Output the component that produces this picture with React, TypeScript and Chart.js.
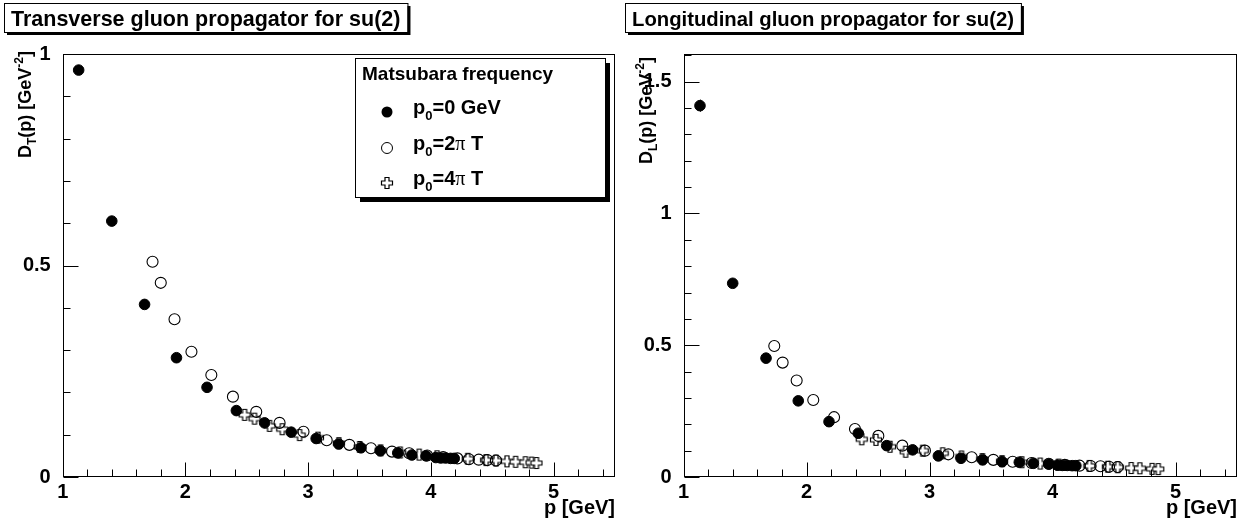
import React, { useEffect, useRef } from 'react';
import { Chart, registerables } from 'chart.js';

Chart.register(...registerables);

// ---------------- data ----------------
const xTickValues = [1, 2, 3, 4, 5];
const leftYTickValues = [0, 0.5, 1];
const rightYTickValues = [0, 0.5, 1, 1.5];

// Transverse propagator
const leftP0X = [1.13, 1.40, 1.667, 1.927, 2.176, 2.415, 2.645, 2.862, 3.065, 3.249, 3.43, 3.588, 3.73, 3.845, 3.96, 4.04, 4.08, 4.12, 4.16, 4.19];
const leftP0Y = [0.962, 0.605, 0.408, 0.282, 0.212, 0.157, 0.128, 0.106, 0.091, 0.078, 0.069, 0.062, 0.057, 0.052, 0.050, 0.046, 0.045, 0.045, 0.044, 0.044];
const left2piX = [1.732, 1.799, 1.911, 2.049, 2.211, 2.387, 2.577, 2.767, 2.962, 3.151, 3.336, 3.512, 3.683, 3.823, 3.97, 4.10, 4.216, 4.31, 4.39, 4.46, 4.53];
const left2piY = [0.509, 0.459, 0.373, 0.296, 0.241, 0.190, 0.154, 0.128, 0.107, 0.087, 0.076, 0.068, 0.060, 0.056, 0.051, 0.047, 0.044, 0.042, 0.041, 0.040, 0.039];
const left4piX = [2.482, 2.563, 2.685, 2.789, 2.93, 3.08, 3.25, 3.42, 3.59, 3.75, 3.905, 4.05, 4.30, 4.45, 4.53, 4.62, 4.69, 4.77, 4.82, 4.86];
const left4piY = [0.147, 0.138, 0.121, 0.113, 0.099, 0.093, 0.080, 0.071, 0.063, 0.058, 0.053, 0.049, 0.043, 0.040, 0.039, 0.037, 0.036, 0.035, 0.034, 0.033];

// Longitudinal propagator
const rightP0X = [1.134, 1.40, 1.671, 1.933, 2.183, 2.421, 2.652, 2.863, 3.072, 3.256, 3.432, 3.59, 3.73, 3.845, 3.97, 4.04, 4.08, 4.12, 4.16, 4.19];
const rightP0Y = [1.409, 0.735, 0.451, 0.289, 0.210, 0.166, 0.119, 0.103, 0.080, 0.071, 0.065, 0.058, 0.056, 0.052, 0.049, 0.045, 0.044, 0.044, 0.043, 0.043];
const rightP0Err = [0.023, 0.01, 0.005, 0.004, 0.003, 0.003, 0.002, 0.002, 0.002, 0.002, 0.002, 0.002, 0.002, 0.002, 0.002, 0.002, 0.002, 0.002, 0.002, 0.002];
const right2piX = [1.738, 1.806, 1.92, 2.055, 2.224, 2.394, 2.584, 2.779, 2.963, 3.153, 3.343, 3.519, 3.676, 3.83, 3.97, 4.10, 4.22, 4.31, 4.39, 4.46, 4.53];
const right2piY = [0.497, 0.434, 0.366, 0.292, 0.227, 0.182, 0.156, 0.119, 0.100, 0.086, 0.075, 0.065, 0.058, 0.053, 0.050, 0.046, 0.043, 0.042, 0.041, 0.039, 0.038];
const right4piX = [2.449, 2.565, 2.679, 2.806, 2.945, 3.107, 3.26, 3.43, 3.59, 3.75, 3.90, 4.05, 4.30, 4.45, 4.53, 4.64, 4.71, 4.81, 4.86];
const right4piY = [0.143, 0.141, 0.115, 0.096, 0.100, 0.090, 0.078, 0.068, 0.060, 0.056, 0.051, 0.047, 0.042, 0.039, 0.037, 0.034, 0.033, 0.031, 0.030];

// ---------------- styling helpers ----------------
const FONT = "'Liberation Sans', Arial, Helvetica, sans-serif";
const SERIF = "'Liberation Serif', 'Times New Roman', serif";

type Part = { t: string; k?: 'sub' | 'sup'; serif?: boolean };

function partFont(p: Part, size: number) {
  const s = p.k ? Math.round(size * 0.65) : size;
  return p.serif ? `normal ${s}px ${SERIF}` : `bold ${s}px ${FONT}`;
}

function richWidth(ctx: CanvasRenderingContext2D, parts: Part[], size: number) {
  let w = 0;
  for (const p of parts) {
    ctx.font = partFont(p, size);
    w += ctx.measureText(p.t).width;
  }
  return w;
}

function drawRich(ctx: CanvasRenderingContext2D, parts: Part[], x: number, baseline: number, size: number, align: 'left' | 'right' | 'center') {
  const w = richWidth(ctx, parts, size);
  let cx = align === 'left' ? x : align === 'right' ? x - w : x - w / 2;
  ctx.textAlign = 'left';
  ctx.textBaseline = 'alphabetic';
  for (const p of parts) {
    ctx.font = partFont(p, size);
    const dy = p.k === 'sub' ? size * 0.3 : p.k === 'sup' ? -size * 0.42 : 0;
    ctx.fillText(p.t, cx, baseline + dy);
    cx += ctx.measureText(p.t).width;
  }
  return w;
}

function makeCross(): HTMLCanvasElement {
  const c = document.createElement('canvas');
  c.width = 14;
  c.height = 14;
  const g = c.getContext('2d')!;
  const cx = 7, cy = 7, a = 2, b = 5.5;
  g.beginPath();
  g.moveTo(cx - a, cy - b);
  g.lineTo(cx + a, cy - b);
  g.lineTo(cx + a, cy - a);
  g.lineTo(cx + b, cy - a);
  g.lineTo(cx + b, cy + a);
  g.lineTo(cx + a, cy + a);
  g.lineTo(cx + a, cy + b);
  g.lineTo(cx - a, cy + b);
  g.lineTo(cx - a, cy + a);
  g.lineTo(cx - b, cy + a);
  g.lineTo(cx - b, cy - a);
  g.lineTo(cx - a, cy - a);
  g.closePath();
  g.fillStyle = '#fff';
  g.fill();
  g.strokeStyle = '#000';
  g.lineWidth = 1.2;
  g.stroke();
  return c;
}

type Panel = {
  title: Part[];
  titleBoxLeft: number;
  titleSize: number;
  yTitle: Part[];
  yTitleBaseX: number;
  yTitleEndY: number;
  yMax: number;
  yTicks: number[];
  yAxisWidth: number;
  padRight: number;
  legend: boolean;
  p0X: number[]; p0Y: number[]; p0Err?: number[];
  p2X: number[]; p2Y: number[];
  p4X: number[]; p4Y: number[];
};

const leftPanel: Panel = {
  title: [{ t: 'Transverse gluon propagator for su(2)' }],
  titleBoxLeft: 4,
  titleSize: 21.5,
  yTitle: [{ t: 'D' }, { t: 'T', k: 'sub' }, { t: '(p) [GeV' }, { t: '-2', k: 'sup' }, { t: ']' }],
  yTitleBaseX: 31,
  yTitleEndY: 51,
  yMax: 1,
  yTicks: leftYTickValues,
  yAxisWidth: 62.7,
  padRight: 6,
  legend: true,
  p0X: leftP0X, p0Y: leftP0Y,
  p2X: left2piX, p2Y: left2piY,
  p4X: left4piX, p4Y: left4piY,
};

const rightPanel: Panel = {
  title: [{ t: 'Longitudinal gluon propagator for su(2)' }],
  titleBoxLeft: 3,
  titleSize: 20.3,
  yTitle: [{ t: 'D' }, { t: 'L', k: 'sub' }, { t: '(p) [GeV' }, { t: '-2', k: 'sup' }, { t: ']' }],
  yTitleBaseX: 30,
  yTitleEndY: 57,
  yMax: 1.605,
  yTicks: rightYTickValues,
  yAxisWidth: 61.5,
  padRight: 8,
  legend: false,
  p0X: rightP0X, p0Y: rightP0Y, p0Err: rightP0Err,
  p2X: right2piX, p2Y: right2piY,
  p4X: right4piX, p4Y: right4piY,
};

const pts = (xs: number[], ys: number[]) => xs.map((x, i) => ({ x, y: ys[i] }));

function panelPlugin(panel: Panel, cross: HTMLCanvasElement) {
  return {
    id: 'rootStyle',
    afterDatasetsDraw(chart: any) {
      if (!panel.p0Err) return;
      const { ctx } = chart;
      const ys = chart.scales.y;
      const meta = chart.getDatasetMeta(0);
      ctx.save();
      ctx.strokeStyle = '#000';
      ctx.lineWidth = 1;
      ctx.beginPath();
      panel.p0Err.forEach((e, i) => {
        const el = meta.data[i];
        if (!el) return;
        const x = Math.round(el.x) + 0.5;
        ctx.moveTo(x, ys.getPixelForValue(panel.p0Y[i] + e));
        ctx.lineTo(x, ys.getPixelForValue(panel.p0Y[i] - e));
      });
      ctx.stroke();
      ctx.restore();
    },
    afterDraw(chart: any) {
      const { ctx, chartArea: a } = chart;
      const xs = chart.scales.x;
      const ys = chart.scales.y;
      ctx.save();
      ctx.strokeStyle = '#000';
      ctx.fillStyle = '#000';
      ctx.lineWidth = 1;
      const L = Math.round(a.left) + 0.5;
      const R = Math.round(a.right) - 0.5;
      const T = Math.round(a.top) + 0.5;
      const B = Math.round(a.bottom) - 0.5;
      ctx.strokeRect(L, T, R - L, B - T);

      // inward ticks
      ctx.beginPath();
      for (let i = 0; ; i++) {
        const v = xs.min + i * 0.2;
        if (v > xs.max + 1e-9) break;
        const px = Math.round(xs.getPixelForValue(v)) + 0.5;
        const major = xTickValues.some((t) => Math.abs(t - v) < 1e-6);
        ctx.moveTo(px, B);
        ctx.lineTo(px, B - (major ? 14 : 7));
      }
      for (let i = 0; ; i++) {
        const v = ys.min + i * 0.1;
        if (v > ys.max + 1e-9) break;
        const py = Math.round(ys.getPixelForValue(v)) + 0.5;
        const major = panel.yTicks.some((t) => Math.abs(t - v) < 1e-6);
        ctx.moveTo(L, py);
        ctx.lineTo(L + (major ? 15 : 7), py);
      }
      ctx.stroke();

      // x axis title
      drawRich(ctx, [{ t: 'p [GeV]' }], a.right, 514, 20, 'right');

      // y axis title (rotated)
      ctx.save();
      ctx.translate(panel.yTitleBaseX, panel.yTitleEndY);
      ctx.rotate(-Math.PI / 2);
      drawRich(ctx, panel.yTitle, 0, 0, 18, 'right');
      ctx.restore();

      // title pave
      const tSize = panel.titleSize;
      const tw = richWidth(ctx, panel.title, tSize);
      const bx = panel.titleBoxLeft, by = 3, bw = tw + 14, bh = 29;
      ctx.fillStyle = '#000';
      ctx.fillRect(bx + 3, by + 3, bw, bh);
      ctx.fillStyle = '#fff';
      ctx.fillRect(bx, by, bw, bh);
      ctx.strokeRect(bx + 0.5, by + 0.5, bw, bh);
      ctx.fillStyle = '#000';
      drawRich(ctx, panel.title, bx + bw / 2, by + 23, tSize, 'center');

      // legend
      if (panel.legend) {
        const lx = 355, ly = 58, lw = 250, lh = 139;
        ctx.fillStyle = '#000';
        ctx.fillRect(lx + 5, ly + 5, lw, lh);
        ctx.fillStyle = '#fff';
        ctx.fillRect(lx, ly, lw, lh);
        ctx.strokeRect(lx + 0.5, ly + 0.5, lw, lh);
        ctx.fillStyle = '#000';
        drawRich(ctx, [{ t: 'Matsubara frequency' }], 362, 80, 19, 'left');
        const mx = 387;
        const rows = [112, 148, 183];
        ctx.beginPath();
        ctx.arc(mx, rows[0], 5.5, 0, Math.PI * 2);
        ctx.fill();
        ctx.beginPath();
        ctx.arc(mx, rows[1], 5.5, 0, Math.PI * 2);
        ctx.stroke();
        ctx.drawImage(cross, mx - 7, rows[2] - 7);
        const size = 20;
        drawRich(ctx, [{ t: 'p' }, { t: '0', k: 'sub' }, { t: '=0 GeV' }], 413, rows[0] + 2, size, 'left');
        drawRich(ctx, [{ t: 'p' }, { t: '0', k: 'sub' }, { t: '=2' }, { t: 'π', serif: true }, { t: ' T' }], 413, rows[1] + 2, size, 'left');
        drawRich(ctx, [{ t: 'p' }, { t: '0', k: 'sub' }, { t: '=4' }, { t: 'π', serif: true }, { t: ' T' }], 413, rows[2] + 2, size, 'left');
      }
      ctx.restore();
    },
  };
}

function makeConfig(panel: Panel, cross: HTMLCanvasElement): any {
  const tickFont = { family: FONT, size: 20, weight: 'bold' as const };
  return {
    type: 'scatter',
    data: {
      datasets: [
        {
          label: 'p0=0 GeV',
          data: pts(panel.p0X, panel.p0Y),
          pointStyle: 'circle',
          pointRadius: 5.3,
          borderWidth: 1,
          backgroundColor: '#000',
          borderColor: '#000',
        },
        {
          label: 'p0=2πT',
          data: pts(panel.p2X, panel.p2Y),
          pointStyle: 'circle',
          pointRadius: 5.5,
          borderWidth: 1.1,
          backgroundColor: 'rgba(0,0,0,0)',
          borderColor: '#000',
        },
        {
          label: 'p0=4πT',
          data: pts(panel.p4X, panel.p4Y),
          pointStyle: cross,
          pointRadius: 6,
          borderColor: '#000',
          backgroundColor: '#fff',
        },
      ],
    },
    options: {
      animation: false,
      responsive: false,
      maintainAspectRatio: false,
      layout: { padding: { left: 0, right: panel.padRight, top: 54, bottom: 0 } },
      plugins: {
        legend: { display: false },
        tooltip: { enabled: false },
        title: { display: false },
      },
      scales: {
        x: {
          type: 'linear',
          min: 1,
          max: 5.5,
          grid: { display: false },
          border: { display: false },
          ticks: { color: '#000', font: tickFont, padding: -5, maxRotation: 0, callback: (v: number) => String(v) },
          afterBuildTicks: (s: any) => {
            s.ticks = xTickValues.map((v) => ({ value: v }));
          },
          afterFit: (s: any) => {
            s.height = 44;
          },
        },
        y: {
          type: 'linear',
          min: 0,
          max: panel.yMax,
          grid: { display: false },
          border: { display: false },
          ticks: { color: '#000', font: tickFont, padding: 4, callback: (v: number) => String(v) },
          afterBuildTicks: (s: any) => {
            s.ticks = panel.yTicks.map((v) => ({ value: v }));
          },
          afterFit: (s: any) => {
            s.width = panel.yAxisWidth;
          },
        },
      },
    },
    plugins: [panelPlugin(panel, cross)],
  };
}

export default function App() {
  const leftRef = useRef<HTMLCanvasElement>(null);
  const rightRef = useRef<HTMLCanvasElement>(null);

  useEffect(() => {
    const cross = makeCross();
    const c1 = new Chart(leftRef.current!, makeConfig(leftPanel, cross));
    const c2 = new Chart(rightRef.current!, makeConfig(rightPanel, cross));
    return () => {
      c1.destroy();
      c2.destroy();
    };
  }, []);

  return (
    <div style={{ position: 'fixed', left: 0, top: 0, width: 1245, height: 521, background: '#fff' }}>
      <canvas ref={leftRef} width={622} height={521} style={{ position: 'absolute', left: 0, top: 0, width: 622, height: 521 }} />
      <canvas ref={rightRef} width={623} height={521} style={{ position: 'absolute', left: 622, top: 0, width: 623, height: 521 }} />
    </div>
  );
}
